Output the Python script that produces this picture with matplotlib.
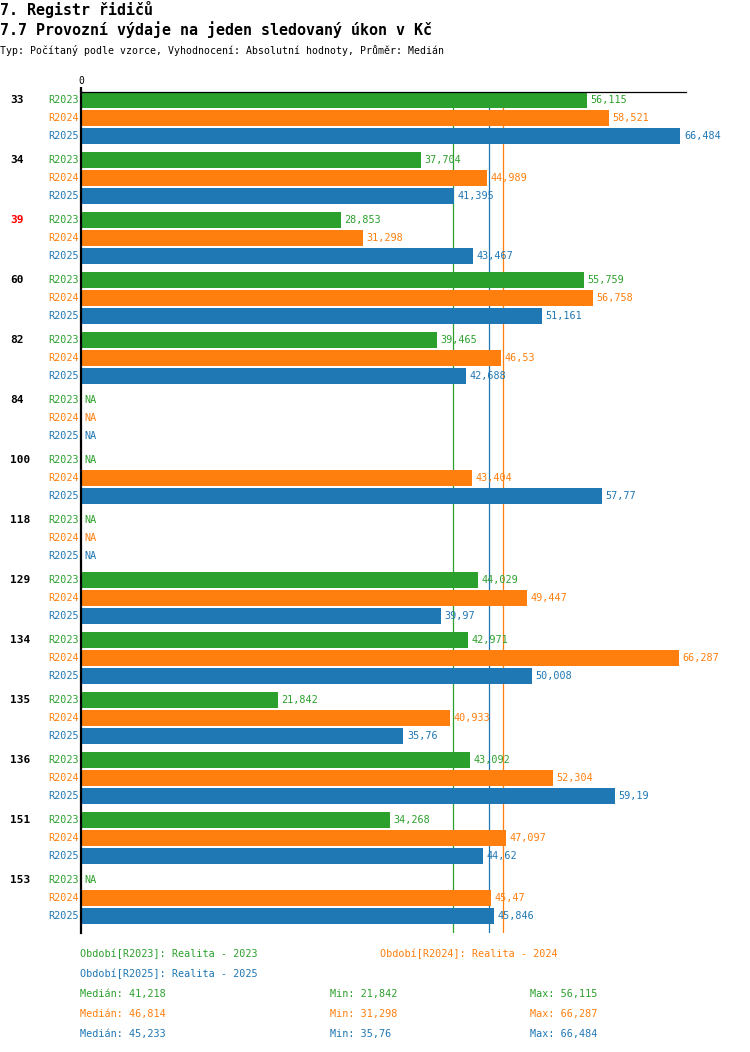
import numpy as np
import matplotlib
matplotlib.use("Agg")
import matplotlib.pyplot as plt
import matplotlib.transforms as mtransforms

# data (NaN = NA)
NA = np.nan
groups = ["33", "34", "39", "60", "82", "84", "100", "118", "129", "134", "135", "136", "151", "153"]
periods = ["R2023", "R2024", "R2025"]
r2023 = [56.115, 37.704, 28.853, 55.759, 39.465, NA, NA, NA, 44.029, 42.971, 21.842, 43.092, 34.268, NA]
r2024 = [58.521, 44.989, 31.298, 56.758, 46.53, NA, 43.404, NA, 49.447, 66.287, 40.933, 52.304, 47.097, 45.47]
r2025 = [66.484, 41.395, 43.467, 51.161, 42.688, NA, 57.77, NA, 39.97, 50.008, 35.76, 59.19, 44.62, 45.846]
medians = [41.218, 46.814, 45.233]
legend_names = ["Realita - 2023", "Realita - 2024", "Realita - 2025"]
highlight = "39"

colors = ["#2ca02c", "#ff7f0e", "#1f77b4"]
series = [r2023, r2024, r2025]
mono = "DejaVu Sans Mono"


def fmt(v):
    s = f"{v:.3f}".rstrip("0").rstrip(".")
    return s.replace(".", ",")


fig = plt.figure(figsize=(7.5, 10.52), dpi=100)
W, H = 750, 1052

# axes in pixel units of the reference
ax = fig.add_axes([81 / W, 1 - 932.5 / H, 605 / W, 840 / H])
group_step, row_step = 60, 18
ax.set_xlim(0, 67.1)
ax.set_ylim(len(groups) * group_step - group_step + 2 * row_step + 16.5, -7.5)

for spine in ["right", "bottom"]:
    ax.spines[spine].set_visible(False)
ax.spines["top"].set_linewidth(0.9)
ax.spines["left"].set_linewidth(1.6)
ax.xaxis.tick_top()
ax.set_xticks([0])
ax.set_xticklabels(["0"], fontfamily=mono, fontsize=7)
ax.tick_params(axis="x", length=3.5, width=1.6, pad=1)
ax.set_yticks([])

# median lines
for m, c in zip(medians, colors):
    ax.axvline(m, color=c, lw=0.9, zorder=1)

left_tr = mtransforms.blended_transform_factory(fig.transFigure, ax.transData)

for gi, g in enumerate(groups):
    y0 = gi * group_step
    ax.text(10 / W, y0, g, transform=left_tr, ha="left", va="center",
            fontfamily=mono, fontsize=8, fontweight="bold",
            color="red" if g == highlight else "black")
    for j, (vals, c, p) in enumerate(zip(series, colors, periods)):
        y = y0 + j * row_step
        v = vals[gi]
        ax.text(78.5 / W, y, p, transform=left_tr, ha="right", va="center",
                fontfamily=mono, fontsize=7.3, color=c)
        if np.isnan(v):
            ax.text(84 / W, y, "NA", transform=left_tr, ha="left", va="center",
                    fontfamily=mono, fontsize=7.3, color=c)
            continue
        ax.barh(y, v, height=16, color=c, zorder=2)
        ax.annotate(fmt(v), (v, y), xytext=(2.5, 0), textcoords="offset points",
                    ha="left", va="center", fontfamily=mono, fontsize=7.3, color=c,
                    annotation_clip=False)

# titles
fig.text(0, 1 - 9 / H, "7. Registr řidičů", ha="left", va="center",
         fontfamily=mono, fontsize=10.8, fontweight="bold")
fig.text(0, 1 - 30 / H, "7.7 Provozní výdaje na jeden sledovaný úkon v Kč", ha="left",
         va="center", fontfamily=mono, fontsize=10.8, fontweight="bold")
fig.text(0, 1 - 50 / H, "Typ: Počítaný podle vzorce, Vyhodnocení: Absolutní hodnoty, Průměr: Medián",
         ha="left", va="center", fontfamily=mono, fontsize=7.1)

# legend
leg_pos = [(80, 954), (380, 954), (80, 974)]
for (x, y), p, name, c in zip(leg_pos, periods, legend_names, colors):
    fig.text(x / W, 1 - y / H, f"Období[{p}]: {name}", ha="left", va="center",
             fontfamily=mono, fontsize=7.3, color=c)

# summary statistics
for k, (vals, c, m) in enumerate(zip(series, colors, medians)):
    y = 1 - (994 + 20 * k) / H
    fig.text(80 / W, y, f"Medián: {fmt(m)}", ha="left", va="center",
             fontfamily=mono, fontsize=7.3, color=c)
    fig.text(330 / W, y, f"Min: {fmt(np.nanmin(vals))}", ha="left", va="center",
             fontfamily=mono, fontsize=7.3, color=c)
    fig.text(530 / W, y, f"Max: {fmt(np.nanmax(vals))}", ha="left", va="center",
             fontfamily=mono, fontsize=7.3, color=c)

fig.savefig("out.png", dpi=100)
